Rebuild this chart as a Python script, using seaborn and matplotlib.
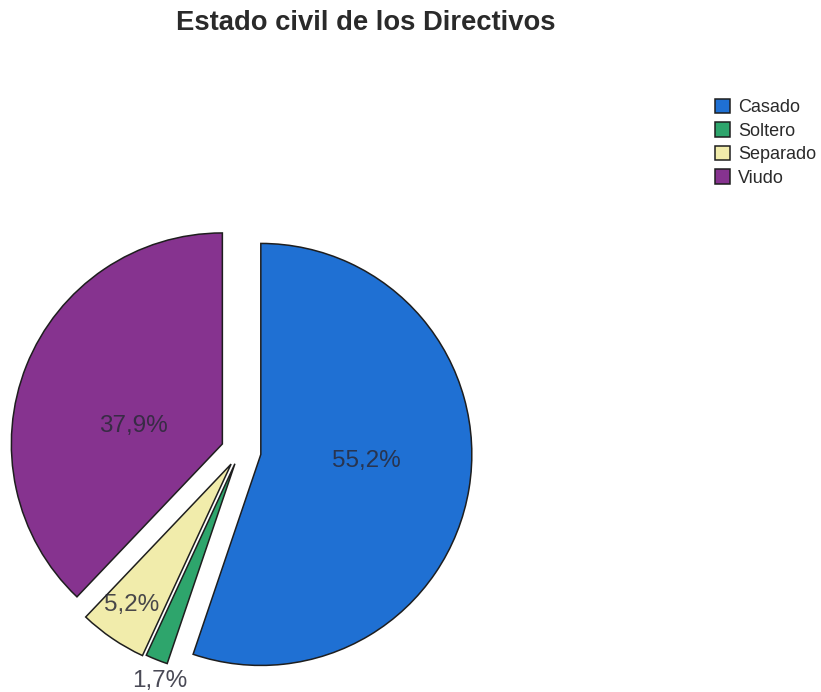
import numpy as np
import matplotlib
matplotlib.use("Agg")
import matplotlib.pyplot as plt
import seaborn as sns

# Marital status of the managers (percent)
categories = ["Casado", "Soltero", "Separado", "Viudo"]
percentages = [55.2, 1.7, 5.2, 37.9]
colors = ["#1f70d3", "#2ea56c", "#f1ecab", "#86338f"]
title = "Estado civil de los Directivos"

sns.set_theme(style="white")
plt.rcParams["font.family"] = ["Liberation Sans", "DejaVu Sans"]

W, H, DPI = 821, 692, 100
fig = plt.figure(figsize=(W / DPI, H / DPI), dpi=DPI, facecolor="white")

# Axes covering the whole figure; 1 data unit = pie radius in pixels
R_PX = 211.0
CX, CY = 240.0, 451.0  # pie centre in pixels (from top-left)
ax = fig.add_axes([0, 0, 1, 1])

explode = [0.10, 0.065, 0.075, 0.09]
wedges, _ = ax.pie(
    percentages,
    colors=colors,
    explode=explode,
    startangle=90,
    counterclock=False,
    wedgeprops=dict(edgecolor="#1e1e1e", linewidth=1.1),
)

ax.set_xlim(-CX / R_PX, (W - CX) / R_PX)
ax.set_ylim(-(H - CY) / R_PX, CY / R_PX)
ax.set_aspect("equal")
ax.axis("off")

# Percentage labels, offset from each wedge's apex (in radius units)
label_offsets = [(0.50, -0.03), (-0.355, -1.03), (-0.47, -0.67), (-0.42, 0.085)]
for w, p, (dx, dy) in zip(wedges, percentages, label_offsets):
    cx, cy = w.center
    ax.text(cx + dx, cy + dy, f"{p:.1f}%".replace(".", ","),
            ha="center", va="center", fontsize=17.5,
            color="#2a2a38", alpha=0.85)

fig.text(366 / W, 1 - 30 / H, title, ha="center", va="baseline",
         fontsize=19.7, fontweight="bold", color="#2a2a2a")

leg = fig.legend(
    wedges, categories,
    loc="upper left", bbox_to_anchor=(715 / W, 1 - 99 / H),
    frameon=False, fontsize=13, borderaxespad=0, borderpad=0,
    handlelength=0.83, handleheight=0.83, handletextpad=0.45,
    labelspacing=0.34,
)
for t in leg.get_texts():
    t.set_color("#2a2a2a")

fig.savefig("out.png", dpi=DPI, facecolor="white")
